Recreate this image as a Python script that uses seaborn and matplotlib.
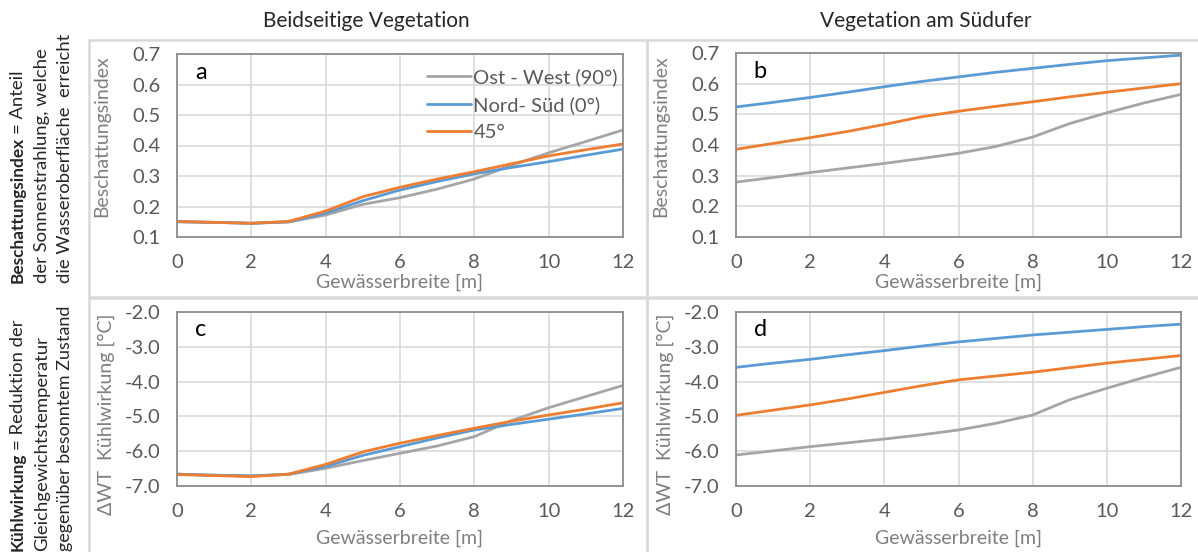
import numpy as np
import pandas as pd
import seaborn as sns
import matplotlib.pyplot as plt
from matplotlib.patches import Rectangle

# Gewässerbreite [m]
breite = list(range(0, 13))
serien = ["Ost - West (90°)", "Nord- Süd (0°)", "45°"]

# a: Beschattungsindex, beidseitige Vegetation
a_ow = [0.150, 0.148, 0.145, 0.149, 0.172, 0.207, 0.229, 0.257, 0.290, 0.335, 0.376, 0.413, 0.451]
a_ns = [0.150, 0.148, 0.145, 0.150, 0.178, 0.219, 0.254, 0.282, 0.307, 0.328, 0.347, 0.368, 0.388]
a_45 = [0.151, 0.148, 0.145, 0.151, 0.185, 0.232, 0.263, 0.290, 0.314, 0.340, 0.366, 0.386, 0.405]

# b: Beschattungsindex, Vegetation am Südufer
b_ow = [0.279, 0.294, 0.310, 0.325, 0.340, 0.356, 0.373, 0.395, 0.426, 0.470, 0.505, 0.537, 0.565]
b_ns = [0.524, 0.539, 0.555, 0.572, 0.590, 0.607, 0.622, 0.637, 0.650, 0.663, 0.675, 0.684, 0.693]
b_45 = [0.386, 0.405, 0.424, 0.444, 0.467, 0.492, 0.510, 0.526, 0.541, 0.557, 0.572, 0.586, 0.600]

# c: Kühlwirkung, beidseitige Vegetation
c_ow = [-6.66, -6.69, -6.71, -6.67, -6.49, -6.27, -6.06, -5.85, -5.58, -5.12, -4.75, -4.43, -4.11]
c_ns = [-6.66, -6.69, -6.71, -6.66, -6.44, -6.12, -5.87, -5.62, -5.39, -5.23, -5.08, -4.93, -4.77]
c_45 = [-6.67, -6.70, -6.73, -6.66, -6.38, -6.02, -5.77, -5.55, -5.34, -5.14, -4.96, -4.79, -4.61]

# d: Kühlwirkung, Vegetation am Südufer
d_ow = [-6.11, -5.99, -5.87, -5.76, -5.65, -5.53, -5.39, -5.20, -4.96, -4.52, -4.19, -3.88, -3.59]
d_ns = [-3.59, -3.47, -3.36, -3.23, -3.11, -2.98, -2.86, -2.76, -2.66, -2.58, -2.50, -2.42, -2.35]
d_45 = [-4.97, -4.82, -4.67, -4.50, -4.31, -4.12, -3.95, -3.84, -3.73, -3.60, -3.47, -3.36, -3.25]

farben = {"Ost - West (90°)": "#a5a5a5", "Nord- Süd (0°)": "#5b9bd5", "45°": "#ed7d31"}

sns.set_style("white")
plt.rcParams["font.family"] = ["Lato", "DejaVu Sans"]
plt.rcParams["axes.unicode_minus"] = False

W, H = 1198, 552
fig = plt.figure(figsize=(W / 100, H / 100), dpi=100)


def make_ax(left, top, right, bottom):
    return fig.add_axes([left / W, 1 - bottom / H, (right - left) / W, (bottom - top) / H])


def long_df(ow, ns, d45):
    return pd.DataFrame({
        "x": breite * 3,
        "y": ow + ns + d45,
        "serie": [serien[0]] * 13 + [serien[1]] * 13 + [serien[2]] * 13,
    })


panels = [
    ("a", make_ax(177, 54, 623, 237), (a_ow, a_ns, a_45), "Beschattungsindex", (0.1, 0.7), 0.1, (-0.15, 0.55), 2),
    ("b", make_ax(736, 53, 1181, 237), (b_ow, b_ns, b_45), "Beschattungsindex", (0.1, 0.7), 0.1, (-0.15, 0.55), 2),
    ("c", make_ax(177, 312, 623, 486), (c_ow, c_ns, c_45), "ΔWT  Kühlwirkung [°C]", (-7.0, -2.0), 1.0, (-0.14, 0.41), 7),
    ("d", make_ax(736, 312, 1181, 486), (d_ow, d_ns, d_45), "ΔWT  Kühlwirkung [°C]", (-7.0, -2.0), 1.0, (-0.14, 0.41), 7),
]

for letter, ax, data, ylab, ylim, step, labpos, xpad in panels:
    df = long_df(*data)
    sns.lineplot(data=df, x="x", y="y", hue="serie", palette=farben, linewidth=2.0,
                 ax=ax, legend=(letter == "a"))
    ax.set_xlim(0, 12)
    ax.set_ylim(*ylim)
    ax.set_xticks(range(0, 13, 2))
    yt = np.arange(ylim[0], ylim[1] + step / 2, step)
    ax.set_yticks(yt)
    ax.set_yticklabels(["{:.1f}".format(v) for v in yt])
    ax.grid(True, color="#d9d9d9", linewidth=1.2)
    ax.set_axisbelow(True)
    for s in ax.spines.values():
        s.set_color("#8c8c8c")
        s.set_linewidth(1.3)
    ax.tick_params(length=0, labelsize=14.5, colors="#595959", pad=12)
    ax.set_xlabel("Gewässerbreite [m]", fontsize=14, color="#7f7f7f", labelpad=xpad)
    ax.set_ylabel(ylab, fontsize=14, color="#7f7f7f")
    ax.yaxis.set_label_coords(*labpos)
    ax.text(0.04, 0.9, letter, transform=ax.transAxes, fontsize=17, color="black",
            ha="left", va="center")
    if letter == "a":
        leg = ax.legend(loc="upper right", bbox_to_anchor=(1.02, 1.0), frameon=False,
                        fontsize=14.5, handlelength=2.2, handletextpad=0.1,
                        labelspacing=0.5, borderaxespad=0.3)
        for t in leg.get_texts():
            t.set_color("#595959")

# Spaltentitel
fig.text(366 / W, 1 - 21 / H, "Beidseitige Vegetation", fontsize=15, ha="center", va="center")
fig.text(926 / W, 1 - 21 / H, "Vegetation am Südufer", fontsize=15, ha="center", va="center")

# Rahmen um die Diagramme
for (x0, y0, x1, y1) in [(89, 40, 647, 297), (647, 40, 1210, 297),
                         (89, 298, 647, 570), (647, 298, 1210, 570)]:
    fig.add_artist(Rectangle((x0 / W, 1 - y1 / H), (x1 - x0) / W, (y1 - y0) / H,
                             transform=fig.transFigure, fill=False,
                             edgecolor="#d9d9d9", linewidth=1.8))

# Seitenbeschriftungen links
ax0 = panels[0][1]
fs_side = 13.3


def side_label(x, y, bold, rest):
    t1 = fig.text(x / W, 1 - y / H, bold, rotation=90, fontsize=12.4, fontweight="bold",
                  ha="center", va="bottom")
    ax0.annotate(rest, xy=(0.5, 1.0), xycoords=t1, xytext=(0, 2),
                 textcoords="offset points", rotation=90, fontsize=fs_side,
                 ha="center", va="bottom", annotation_clip=False)


side_label(18, 283, "Beschattungsindex", "= Anteil")
fig.text(42 / W, 1 - 283 / H, "der Sonnenstrahlung, welche", rotation=90, fontsize=fs_side,
         ha="center", va="bottom")
fig.text(65 / W, 1 - 283 / H, "die Wasseroberfläche  erreicht", rotation=90, fontsize=fs_side,
         ha="center", va="bottom")

side_label(18, 551, "Kühlwirkung", "= Reduktion der")
fig.text(42 / W, 1 - 551 / H, "Gleichgewichtstemperatur", rotation=90, fontsize=fs_side,
         ha="center", va="bottom")
fig.text(65 / W, 1 - 551 / H, "gegenüber besonntem Zustand", rotation=90, fontsize=13,
         ha="center", va="bottom")

fig.savefig("out.png", dpi=100)
